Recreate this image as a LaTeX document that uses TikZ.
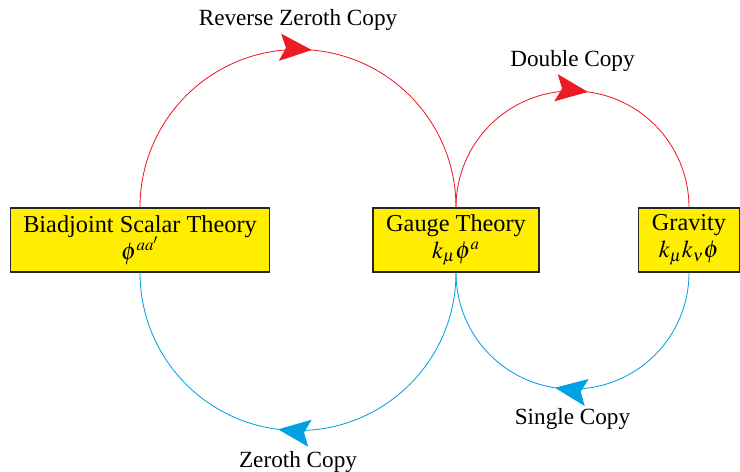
\documentclass[tikz,border=0pt]{standalone}
\usepackage{amsmath}
\usepackage{mathptmx}
\usepackage{fontspec}
\setmainfont{Liberation Serif}
\usetikzlibrary{arrows.meta,calc,decorations.markings}

\definecolor{theoryyellow}{RGB}{255,238,0}
\definecolor{copyred}{RGB}{237,28,36}
\definecolor{copyblue}{RGB}{0,162,227}

\tikzset{
  theory/.style={draw=black!85, line width=0.8pt, fill=theoryyellow, minimum height=1.6cm,
    inner xsep=0.33cm, align=center, font=\rmfamily\LARGE},
  copyline/.style={line width=0.6pt},
  midarrow/.style={postaction={decorate}, decoration={markings,
    mark=at position #1 with {\arrow{Stealth[length=0.8cm,width=0.68cm,inset=0.15cm]}}}},
  lbl/.style={font=\rmfamily\fontsize{16.5}{20}\selectfont, anchor=base}
}

\begin{document}
\begin{tikzpicture}
\useasboundingbox (0,0) rectangle (18.5,11.775);
% the three theories
\node[theory] (bsa) at (3.5,5.775) {Biadjoint Scalar Theory\\[-3pt]$\phi^{aa'}$};
\node[theory] (gauge) at (11.4,5.775) {Gauge Theory\\[-3pt]$k_\mu\phi^a$};
\node[theory] (grav) at (17.225,5.775) {Gravity\\[-3pt]$k_\mu k_\nu\phi$};
%
\coordinate (rz) at ($(bsa.north)!0.5!(gauge.north)+(0,3.95)$);
\coordinate (zc) at ($(bsa.south)!0.5!(gauge.south)-(0,3.95)$);
\coordinate (dc) at ($(gauge.north)!0.5!(grav.north)+(0,2.9125)$);
\coordinate (sc) at ($(gauge.south)!0.5!(grav.south)-(0,2.9125)$);
% copies
\draw[copyline, copyred, midarrow=0.528]
  (bsa.north) to[out=90,in=180] (rz) to[out=0,in=90] (gauge.north);
\draw[copyline, copyred, midarrow=0.542]
  (gauge.north) to[out=90,in=180] (dc) to[out=0,in=90] (grav.north);
\draw[copyline, copyblue, midarrow=0.54]
  (gauge.south) to[out=-90,in=0] (zc) to[out=180,in=-90] (bsa.south);
\draw[copyline, copyblue, midarrow=0.548]
  (grav.south) to[out=-90,in=0] (sc) to[out=180,in=-90] (gauge.south);
% labels
\node[lbl] (rzl) at ($(rz)+(0,0.6)$) {Reverse Zeroth Copy};
\node[lbl] (dcl) at ($(dc)+(0,0.61)$) {Double Copy};
\node[lbl] (zcl) at ($(zc)-(0,0.925)$) {Zeroth Copy};
\node[lbl] (scl) at ($(sc)-(0,0.89)$) {Single Copy};
\end{tikzpicture}
\end{document}
